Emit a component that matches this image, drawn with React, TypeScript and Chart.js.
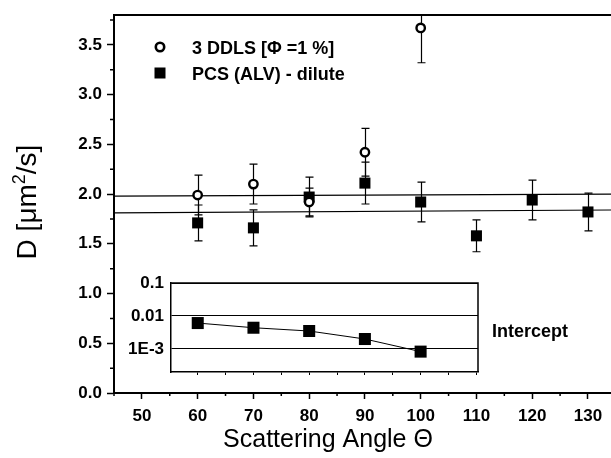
import { useEffect, useRef } from "react";
import { Chart, registerables } from "chart.js";

Chart.register(...registerables);

const FONT = '"Liberation Sans", Arial, Helvetica, sans-serif';

// Diffusion coefficients vs scattering angle
const angles = [60, 70, 80, 90, 100, 110, 120, 130];
const ddlsAngles = [60, 70, 80, 90, 100];
const ddlsD = [1.99, 2.1, 1.92, 2.42, 3.67];
const ddlsErr = [0.2, 0.2, 0.14, 0.24, 0.35];
const pcsD = [1.71, 1.66, 1.97, 2.11, 1.92, 1.58, 1.94, 1.82];
const pcsErr = [0.18, 0.18, 0.2, 0.21, 0.2, 0.16, 0.2, 0.19];

// Linear fits (end points)
const fitX = [45, 135];
const ddlsFit = [1.98, 2.0];
const pcsFit = [1.81, 1.84];

// Axis ticks
const xTicks = [50, 60, 70, 80, 90, 100, 110, 120, 130];
const xMinorTicks = [45, 55, 65, 75, 85, 95, 105, 115, 125];
const yTicks = [0, 0.5, 1.0, 1.5, 2.0, 2.5, 3.0, 3.5];
const yMinorTicks = [0.25, 0.75, 1.25, 1.75, 2.25, 2.75, 3.25, 3.75];

// Inset: intercept vs angle (log scale)
const insetAngles = [60, 70, 80, 90, 100];
const intercept = [0.0061, 0.0044, 0.0035, 0.002, 0.00083];
const insetYTicks = [0.001, 0.01, 0.1];
const insetYLabels = ["1E-3", "0.01", "0.1"];
const insetXTicks = [60, 65, 70, 75, 80, 85, 90, 95, 100, 105, 110];

const legendLabels = ["3 DDLS [\u03A6 =1 %]", "PCS (ALV) - dilute"];

const errorBars = {
  id: "errorBars",
  beforeDatasetsDraw(chart: any) {
    const { ctx, chartArea, scales } = chart;
    const x = scales.x;
    const y = scales.y;
    ctx.save();
    ctx.beginPath();
    ctx.rect(chartArea.left, chartArea.top, chartArea.right - chartArea.left, chartArea.bottom - chartArea.top);
    ctx.clip();
    ctx.strokeStyle = "#000";
    ctx.lineWidth = 1.2;
    const series: [number[], number[], number[]][] = [
      [ddlsAngles, ddlsD, ddlsErr],
      [angles, pcsD, pcsErr],
    ];
    for (const [xs, ys, es] of series) {
      xs.forEach((xv, i) => {
        const px = Math.round(x.getPixelForValue(xv)) + 0.5;
        const top = y.getPixelForValue(ys[i] + es[i]);
        const bot = y.getPixelForValue(ys[i] - es[i]);
        ctx.beginPath();
        ctx.moveTo(px, top);
        ctx.lineTo(px, bot);
        ctx.moveTo(px - 4, top);
        ctx.lineTo(px + 4, top);
        ctx.moveTo(px - 4, bot);
        ctx.lineTo(px + 4, bot);
        ctx.stroke();
      });
    }
    ctx.restore();
  },
};

const mainDecor = {
  id: "mainDecor",
  afterDraw(chart: any) {
    const { ctx, chartArea, scales } = chart;
    const x = scales.x;
    const y = scales.y;
    ctx.save();
    ctx.strokeStyle = "#000";
    ctx.fillStyle = "#000";

    // top frame line
    ctx.lineWidth = 2;
    ctx.beginPath();
    ctx.moveTo(chartArea.left - 1, chartArea.top);
    ctx.lineTo(chartArea.right, chartArea.top);
    ctx.stroke();

    // minor ticks
    ctx.lineWidth = 1.5;
    ctx.beginPath();
    for (const v of xMinorTicks) {
      const px = x.getPixelForValue(v);
      ctx.moveTo(px, chartArea.bottom);
      ctx.lineTo(px, chartArea.bottom + 3);
    }
    for (const v of yMinorTicks) {
      const py = y.getPixelForValue(v);
      ctx.moveTo(chartArea.left - 4, py);
      ctx.lineTo(chartArea.left, py);
    }
    ctx.stroke();

    // legend
    const lx = 160;
    const rows = [47, 73];
    ctx.lineWidth = 2.6;
    ctx.fillStyle = "#fff";
    ctx.beginPath();
    ctx.arc(lx, rows[0], 4.2, 0, Math.PI * 2);
    ctx.fill();
    ctx.stroke();
    ctx.fillStyle = "#000";
    ctx.fillRect(lx - 5.5, rows[1] - 5.5, 11, 11);
    ctx.font = `bold 18px ${FONT}`;
    ctx.textAlign = "left";
    ctx.textBaseline = "alphabetic";
    ctx.fillText(legendLabels[0], 192, rows[0] + 6.5);
    ctx.fillText(legendLabels[1], 192, rows[1] + 6.5);

    // inset label
    ctx.fillText("Intercept", 492, 337);

    // x title
    ctx.font = `25px ${FONT}`;
    ctx.textAlign = "center";
    ctx.fillText("Scattering Angle \u0398", 328, 447);

    // y title with superscript
    ctx.save();
    ctx.translate(26, 202);
    ctx.rotate(-Math.PI / 2);
    const big = `28px ${FONT}`;
    const small = `18px ${FONT}`;
    const p1 = "D [\u03BCm";
    const p2 = "2";
    const p3 = "/s]";
    ctx.font = big;
    const w1 = ctx.measureText(p1).width;
    const w3 = ctx.measureText(p3).width;
    ctx.font = small;
    const w2 = ctx.measureText(p2).width;
    let cx = -(w1 + w2 + w3) / 2;
    ctx.textAlign = "left";
    ctx.font = big;
    ctx.fillText(p1, cx, 10);
    cx += w1;
    ctx.font = small;
    ctx.fillText(p2, cx, -1);
    cx += w2;
    ctx.font = big;
    ctx.fillText(p3, cx, 10);
    ctx.restore();

    ctx.restore();
  },
};

const insetFrame = {
  id: "insetFrame",
  afterDraw(chart: any) {
    const { ctx, chartArea } = chart;
    ctx.save();
    ctx.strokeStyle = "#000";
    ctx.lineWidth = 1.5;
    ctx.beginPath();
    ctx.moveTo(chartArea.left, chartArea.top);
    ctx.lineTo(chartArea.right, chartArea.top);
    ctx.lineTo(chartArea.right, chartArea.bottom);
    ctx.stroke();
    ctx.restore();
  },
};

const noPad = (s: any) => {
  s.paddingLeft = 0;
  s.paddingRight = 0;
  s.paddingTop = 0;
  s.paddingBottom = 0;
};

export default function App() {
  const mainRef = useRef<HTMLCanvasElement | null>(null);
  const insetRef = useRef<HTMLCanvasElement | null>(null);

  useEffect(() => {
    if (!mainRef.current || !insetRef.current) return;

    const tickFont = { family: FONT, size: 17, weight: "bold" as const };

    const main = new Chart(mainRef.current, {
      type: "scatter",
      data: {
        datasets: [
          {
            label: legendLabels[0],
            data: ddlsAngles.map((a, i) => ({ x: a, y: ddlsD[i] })),
            pointStyle: "circle",
            pointRadius: 4.2,
            pointBorderWidth: 2.4,
            pointBackgroundColor: "#fff",
            pointBorderColor: "#000",
            showLine: false,
          },
          {
            label: legendLabels[1],
            data: angles.map((a, i) => ({ x: a, y: pcsD[i] })),
            pointStyle: "rect",
            pointRadius: 7.8,
            pointBorderWidth: 0,
            pointBackgroundColor: "#000",
            pointBorderColor: "#000",
            showLine: false,
          },
          {
            label: "DDLS fit",
            data: fitX.map((a, i) => ({ x: a, y: ddlsFit[i] })),
            showLine: true,
            borderColor: "#000",
            borderWidth: 1.2,
            pointRadius: 0,
          },
          {
            label: "PCS fit",
            data: fitX.map((a, i) => ({ x: a, y: pcsFit[i] })),
            showLine: true,
            borderColor: "#000",
            borderWidth: 1.2,
            pointRadius: 0,
          },
        ],
      },
      options: {
        responsive: false,
        animation: false,
        events: [],
        layout: { autoPadding: false, padding: { left: 0, top: 15, right: 0, bottom: 0 } },
        plugins: { legend: { display: false }, tooltip: { enabled: false } },
        scales: {
          x: {
            type: "linear",
            min: 45,
            max: 134.13,
            afterBuildTicks: (s: any) => {
              s.ticks = xTicks.map((v) => ({ value: v }));
            },
            afterFit: (s: any) => {
              s.height = 65;
              noPad(s);
            },
            ticks: {
              color: "#000",
              font: tickFont,
              padding: 7,
              maxRotation: 0,
              autoSkip: false,
              callback: (v: any) => String(v),
            },
            grid: { drawOnChartArea: false, drawTicks: true, tickLength: 6, tickWidth: 1.5, tickColor: "#000" },
            border: { display: true, color: "#000", width: 2 },
          },
          y: {
            type: "linear",
            min: 0,
            max: 3.8,
            afterBuildTicks: (s: any) => {
              s.ticks = yTicks.map((v) => ({ value: v }));
            },
            afterFit: (s: any) => {
              s.width = 114;
              noPad(s);
            },
            ticks: {
              color: "#000",
              font: tickFont,
              padding: 5,
              autoSkip: false,
              callback: (v: any) => Number(v).toFixed(1),
            },
            grid: { drawOnChartArea: false, drawTicks: true, tickLength: 7, tickWidth: 1.5, tickColor: "#000" },
            border: { display: true, color: "#000", width: 2 },
          },
        },
      },
      plugins: [errorBars, mainDecor],
    });

    const inset = new Chart(insetRef.current, {
      type: "scatter",
      data: {
        datasets: [
          {
            label: "Intercept",
            data: insetAngles.map((a, i) => ({ x: a, y: intercept[i] })),
            showLine: true,
            borderColor: "#000",
            borderWidth: 1,
            pointStyle: "rect",
            pointRadius: 8.5,
            pointBorderWidth: 0,
            pointBackgroundColor: "#000",
          },
        ],
      },
      options: {
        responsive: false,
        animation: false,
        events: [],
        layout: { autoPadding: false, padding: { left: 0, top: 13, right: 12, bottom: 0 } },
        plugins: { legend: { display: false }, tooltip: { enabled: false } },
        scales: {
          x: {
            type: "linear",
            min: 55.2,
            max: 110.3,
            afterBuildTicks: (s: any) => {
              s.ticks = insetXTicks.map((v) => ({ value: v }));
            },
            afterFit: (s: any) => {
              s.height = 13;
              noPad(s);
            },
            ticks: { display: false },
            grid: { drawOnChartArea: false, drawTicks: true, tickLength: 3, tickWidth: 1, tickColor: "#000" },
            border: { display: true, color: "#000", width: 1.5 },
          },
          y: {
            type: "logarithmic",
            min: 0.0002,
            max: 0.1,
            afterBuildTicks: (s: any) => {
              s.ticks = insetYTicks.map((v) => ({ value: v }));
            },
            afterFit: (s: any) => {
              s.width = 51;
              noPad(s);
            },
            ticks: {
              color: "#000",
              font: tickFont,
              padding: 7,
              autoSkip: false,
              callback: (_v: any, i: number) => insetYLabels[i],
            },
            grid: { drawOnChartArea: true, drawTicks: false, color: "#000", lineWidth: 1 },
            border: { display: true, color: "#000", width: 1.5 },
          },
        },
      },
      plugins: [insetFrame],
    });

    return () => {
      main.destroy();
      inset.destroy();
    };
  }, []);

  return (
    <div style={{ position: "absolute", left: 0, top: 0, width: 611, height: 458, background: "#fff", overflow: "hidden" }}>
      <canvas ref={mainRef} width={611} height={458} style={{ position: "absolute", left: 0, top: 0, display: "block" }} />
      <canvas ref={insetRef} width={370} height={115} style={{ position: "absolute", left: 120, top: 270, display: "block" }} />
    </div>
  );
}
